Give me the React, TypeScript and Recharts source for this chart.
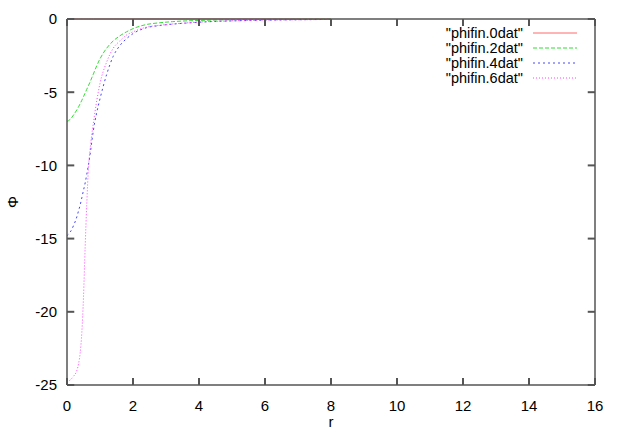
import { LineChart, Line, XAxis, YAxis, ReferenceLine } from 'recharts'

// radial grid shared by all four runs
const R = [0, 0.1, 0.2, 0.3, 0.35, 0.4, 0.45, 0.5, 0.55, 0.6, 0.65, 0.7, 0.75, 0.8, 0.9, 1.0, 1.2, 1.4, 1.6, 1.8, 2.0, 2.4, 2.8, 3.2, 3.6, 4, 5, 6, 7, 8]

const PHI0 = R.map(() => 0)
const PHI2 = [-7.0, -6.85, -6.55, -6.2, -6.0, -5.78, -5.55, -5.3, -5.05, -4.8, -4.55, -4.3, -4.02, -3.75, -3.2, -2.72, -2.0, -1.5, -1.15, -0.88, -0.66, -0.38, -0.26, -0.18, -0.13, -0.1, -0.05, -0.03, -0.02, -0.01]
const PHI4 = [-14.8, -14.55, -14.1, -13.5, -13.1, -12.7, -12.2, -11.7, -11.2, -10.6, -9.95, -9.25, -8.4, -7.6, -6.4, -5.45, -3.8, -2.55, -1.82, -1.35, -1.0, -0.6, -0.45, -0.35, -0.28, -0.22, -0.13, -0.08, -0.05, -0.03]
const PHI6 = [-24.8, -24.65, -24.4, -24.0, -23.55, -22.8, -21.4, -19.0, -15.6, -12.6, -10.2, -8.9, -7.9, -7.1, -5.6, -4.4, -2.95, -2.0, -1.5, -1.1, -0.88, -0.56, -0.43, -0.34, -0.27, -0.21, -0.12, -0.07, -0.05, -0.03]

const X_TICKS = [0, 2, 4, 6, 8, 10, 12, 14, 16]
const Y_TICKS = [-25, -20, -15, -10, -5, 0]

const SERIES = [
  { key: 'p0', name: '"phifin.0dat"', color: '#ff6a6a', dash: undefined },
  { key: 'p2', name: '"phifin.2dat"', color: '#33dd33', dash: '4 2' },
  { key: 'p4', name: '"phifin.4dat"', color: '#4444ff', dash: '2 3' },
  { key: 'p6', name: '"phifin.6dat"', color: '#ff44ff', dash: '1 2' },
]

const data = R.map((r, i) => ({ r, p0: PHI0[i], p2: PHI2[i], p4: PHI4[i], p6: PHI6[i] }))

const FONT = '"Liberation Sans", Arial, sans-serif'
const AXIS = '#555555'
const FS = 15
const tickText = { fontSize: FS, fontFamily: FONT, fill: '#000' }
const blank = () => ''
// inward tick length in data units (about 7px each way)
const TX = 0.22
const TY = 0.48

export default function App() {
  return (
    <div style={{ position: 'absolute', left: 0, top: 0, width: 623, height: 436, background: '#fff' }}>
      <LineChart width={623} height={436} data={data} margin={{ top: 9, right: 18, bottom: 11, left: 7 }}>
        <XAxis
          xAxisId="b"
          dataKey="r"
          type="number"
          domain={[0, 16]}
          ticks={X_TICKS}
          height={40}
          tickSize={0}
          tickMargin={15}
          tickLine={false}
          axisLine={{ stroke: AXIS, strokeWidth: 1.5 }}
          tick={tickText}
          label={({ viewBox }: any) => (
            <text x={viewBox.x + viewBox.width / 2} y={viewBox.y + 42} textAnchor="middle" fontSize={FS} fontFamily={FONT}>r</text>
          )}
        />
        <XAxis
          xAxisId="t"
          orientation="top"
          dataKey="r"
          type="number"
          domain={[0, 16]}
          ticks={X_TICKS}
          height={10}
          tickLine={false}
          axisLine={{ stroke: AXIS, strokeWidth: 1.5 }}
          tickFormatter={blank}
        />
        <YAxis
          yAxisId="l"
          type="number"
          domain={[-25, 0]}
          ticks={Y_TICKS}
          width={60}
          tickSize={0}
          tickMargin={10}
          tickLine={false}
          axisLine={{ stroke: AXIS, strokeWidth: 1.5 }}
          tick={tickText}
          label={({ viewBox }: any) => {
            const cy = viewBox.y + viewBox.height / 2
            return (
              <text x={12} y={cy} textAnchor="middle" dominantBaseline="central" fontSize={FS} fontFamily={FONT} transform={`rotate(-90 12 ${cy})`}>Φ</text>
            )
          }}
        />
        <YAxis
          yAxisId="rt"
          orientation="right"
          type="number"
          domain={[-25, 0]}
          ticks={Y_TICKS}
          width={10}
          tickLine={false}
          axisLine={{ stroke: AXIS, strokeWidth: 1.5 }}
          tickFormatter={blank}
        />
        {SERIES.map(s => (
          <Line
            key={s.key}
            xAxisId="b"
            yAxisId="l"
            dataKey={s.key}
            type="monotone"
            stroke={s.color}
            strokeWidth={1}
            strokeDasharray={s.dash}
            dot={false}
            isAnimationActive={false}
          />
        ))}
        {/* gnuplot-style inward ticks on all four sides */}
        {X_TICKS.flatMap(x => [
          <ReferenceLine key={`xb${x}`} xAxisId="b" yAxisId="l" ifOverflow="visible" segment={[{ x, y: -25 }, { x, y: -25 + TY }]} stroke={AXIS} strokeWidth={2} />,
          <ReferenceLine key={`xt${x}`} xAxisId="b" yAxisId="l" ifOverflow="visible" segment={[{ x, y: 0 }, { x, y: -TY }]} stroke={AXIS} strokeWidth={2} />,
        ])}
        {Y_TICKS.flatMap(y => [
          <ReferenceLine key={`yl${y}`} xAxisId="b" yAxisId="l" ifOverflow="visible" segment={[{ x: 0, y }, { x: TX, y }]} stroke={AXIS} strokeWidth={2} />,
          <ReferenceLine key={`yr${y}`} xAxisId="b" yAxisId="l" ifOverflow="visible" segment={[{ x: 16, y }, { x: 16 - TX, y }]} stroke={AXIS} strokeWidth={2} />,
        ])}
      </LineChart>
      <svg width={623} height={100} style={{ position: 'absolute', left: 0, top: 0, pointerEvents: 'none' }}>
        {SERIES.map((s, i) => (
          <g key={s.key}>
            <text x={523} y={33 + i * 15} textAnchor="end" dominantBaseline="central" fontSize={14.5} fontFamily={FONT}>{s.name}</text>
            <line x1={533} x2={577} y1={33 + i * 15} y2={33 + i * 15} stroke={s.color} strokeWidth={1} strokeDasharray={s.dash} />
          </g>
        ))}
      </svg>
    </div>
  )
}
